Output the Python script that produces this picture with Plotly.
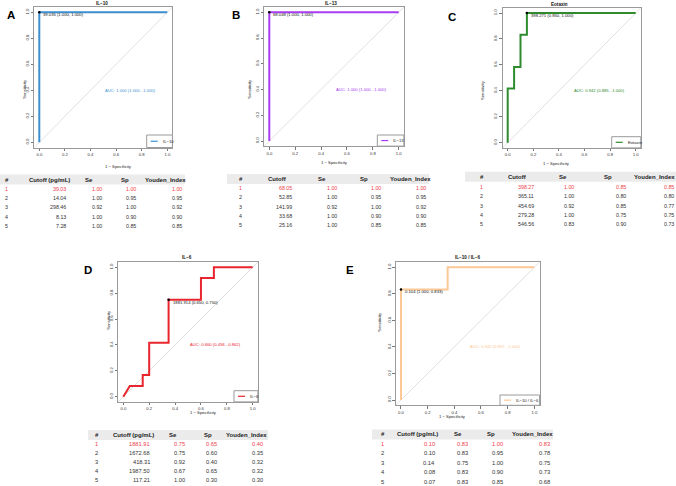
import plotly.graph_objects as go

W, H = 676, 486

# ---------------- data ----------------
il10_fpr = [0.0, 0.0, 1.0]
il10_tpr = [0.0, 1.0, 1.0]
il13_fpr = [0.0, 0.0, 1.0]
il13_tpr = [0.0, 1.0, 1.0]
eot_fpr = [0.0, 0.0, 0.05, 0.05, 0.10, 0.10, 0.15, 0.15, 1.0]
eot_tpr = [0.0, 0.417, 0.417, 0.583, 0.583, 0.833, 0.833, 1.0, 1.0]
il6_fpr = [0.0, 0.05, 0.15, 0.15, 0.20, 0.20, 0.35, 0.35, 0.60, 0.60, 0.70, 0.70, 1.0]
il6_tpr = [0.0, 0.083, 0.083, 0.167, 0.167, 0.417, 0.417, 0.75, 0.75, 0.917, 0.917, 1.0, 1.0]
ratio_fpr = [0.0, 0.0, 0.35, 0.35, 1.0]
ratio_tpr = [0.0, 0.833, 0.833, 1.0, 1.0]

titles = ["IL\u221210", "IL\u221213", "Eotaxin", "IL\u22126", "IL\u221210 / IL\u22126"]
thr_fpr = [0.0, 0.0, 0.15, 0.35, 0.0]
thr_tpr = [1.0, 1.0, 1.0, 0.75, 0.833]
thr_text = ["39.035 (1.000, 1.000)", "68.048 (1.000, 1.000)", "398.271 (0.850, 1.000)",
            "1881.914 (0.650, 0.750)", "0.104 (1.000, 0.833)"]
auc_text = ["AUC: 1.000 (1.000...1.000)", "AUC: 1.000 (1.000...1.000)", "AUC: 0.942 (0.885...1.000)",
            "AUC: 0.660 (0.458...0.862)", "AUC: 0.942 (0.857...1.000)"]

tick_vals = [0.0, 0.2, 0.4, 0.6, 0.8, 1.0]
tick_text = ["0.0", "0.2", "0.4", "0.6", "0.8", "1.0"]

A_cutoff = [39.03, 14.04, 298.46, 8.13, 7.28]
A_se = [1.00, 1.00, 0.92, 1.00, 1.00]
A_sp = [1.00, 0.95, 1.00, 0.90, 0.85]
A_yi = [1.00, 0.95, 0.92, 0.90, 0.85]
B_cutoff = [68.05, 52.85, 141.99, 33.68, 25.16]
B_se = [1.00, 1.00, 0.92, 1.00, 1.00]
B_sp = [1.00, 0.95, 1.00, 0.90, 0.85]
B_yi = [1.00, 0.95, 0.92, 0.90, 0.85]
C_cutoff = [398.27, 365.11, 454.69, 279.28, 546.56]
C_se = [1.00, 1.00, 0.92, 1.00, 0.83]
C_sp = [0.85, 0.80, 0.85, 0.75, 0.90]
C_yi = [0.85, 0.80, 0.77, 0.75, 0.73]
D_cutoff = [1881.91, 1672.68, 418.31, 1987.50, 117.21]
D_se = [0.75, 0.75, 0.92, 0.67, 1.00]
D_sp = [0.65, 0.60, 0.40, 0.65, 0.30]
D_yi = [0.40, 0.35, 0.32, 0.32, 0.30]
E_cutoff = [0.10, 0.10, 0.14, 0.08, 0.07]
E_se = [0.83, 0.83, 0.75, 0.83, 0.83]
E_sp = [1.00, 0.95, 1.00, 0.90, 0.85]
E_yi = [0.83, 0.78, 0.75, 0.73, 0.68]

# ---------------- helpers ----------------
def X(px):
    return px / W

def Y(py):
    return 1 - py / H

FONT = "Liberation Sans, Arial, sans-serif"
curves = [(il10_fpr, il10_tpr), (il13_fpr, il13_tpr), (eot_fpr, eot_tpr),
          (il6_fpr, il6_tpr), (ratio_fpr, ratio_tpr)]
colors = ["#3b8fd0", "#a83cf0", "#2e8b2e", "#e8262e", "#fcc896"]
letters = ["A", "B", "C", "D", "E"]

# pixel geometry: data x=0, x=1, y=1, y=0
geom = [
    dict(x0=39.3, x1=167.3, yt=12.3, yb=142.3),
    dict(x0=269.3, x1=398.7, yt=12.3, yb=141.0),
    dict(x0=507.7, x1=635.7, yt=13.0, yb=142.7),
    dict(x0=123.3, x1=252.7, yt=267.3, yb=396.7),
    dict(x0=401.0, x1=534.3, yt=267.3, yb=400.0),
]
title_pos = [(102, 3.5), (331, 3.5), (559, 4.5), (187, 257.5), (467, 257.5)]
letter_pos = [(11, 15), (236, 15), (452, 17), (88, 270), (350, 270)]
ylab_x = [20, 250, 487.7, 103.3, 380]
xlab_dy = [14.5, 16, 15.5, 15.5, 16]
legend_box = [(146.7, 135, 172.4, 147.5), (377.3, 135, 403.9, 146.1), (611.7, 136.7, 640.8, 147.9),
              (234, 390.7, 257.9, 401.9), (500, 395, 539.6, 405.3)]

fig = go.Figure()
annotations = []
shapes = []
layout = {}

for i in range(5):
    g = geom[i]
    ux = g["x1"] - g["x0"]
    uy = g["yb"] - g["yt"]
    left, right = g["x0"] - 0.04 * ux, g["x1"] + 0.04 * ux
    top, bottom = g["yt"] - 0.04 * uy, g["yb"] + 0.04 * uy
    n = "" if i == 0 else str(i + 1)
    xa, ya = "x" + n, "y" + n
    common = dict(range=[-0.04, 1.04], showgrid=False, zeroline=False, showline=True, mirror=True,
                  linecolor="#9a9a9a", linewidth=1, ticks="outside", ticklen=2.5, tickwidth=0.6,
                  tickcolor="#777", tickvals=tick_vals, ticktext=tick_text,
                  tickfont=dict(size=4.2, color="#333", family=FONT), fixedrange=True)
    layout["xaxis" + n] = dict(domain=[X(left), X(right)], anchor=ya, **common)
    layout["yaxis" + n] = dict(domain=[Y(bottom), Y(top)], anchor=xa, tickangle=-90, **common)

    fig.add_trace(go.Scatter(x=[-0.04, 1.04], y=[-0.04, 1.04], mode="lines",
                             line=dict(color="#d2d2d2", width=0.7), xaxis=xa, yaxis=ya,
                             showlegend=False, hoverinfo="skip"))
    fx, ty = curves[i]
    fig.add_trace(go.Scatter(x=fx, y=ty, mode="lines", line=dict(color=colors[i], width=2),
                             xaxis=xa, yaxis=ya, showlegend=False, name=titles[i]))
    fig.add_trace(go.Scatter(x=[thr_fpr[i]], y=[thr_tpr[i]], mode="markers",
                             marker=dict(color="black", size=2.5), xaxis=xa, yaxis=ya,
                             showlegend=False))
    annotations.append(dict(x=thr_fpr[i], y=thr_tpr[i], xref=xa, yref=ya, text=thr_text[i],
                            showarrow=False, xanchor="left", yanchor="middle", xshift=2, yshift=-2.5,
                            font=dict(size=4.2, color="#111", family=FONT)))
    annotations.append(dict(x=0.5, y=0.4, xref=xa, yref=ya, text=auc_text[i], showarrow=False,
                            xanchor="left", yanchor="middle",
                            font=dict(size=4.2, color=colors[i], family=FONT)))
    tx, ty_ = title_pos[i]
    annotations.append(dict(x=X(tx), y=Y(ty_), xref="paper", yref="paper", text="<b>%s</b>" % titles[i],
                            showarrow=False, xanchor="center", yanchor="middle",
                            font=dict(size=4.6, color="#111", family=FONT)))
    lx, ly = letter_pos[i]
    annotations.append(dict(x=X(lx), y=Y(ly), xref="paper", yref="paper", text="<b>%s</b>" % letters[i],
                            showarrow=False, xanchor="center", yanchor="middle",
                            font=dict(size=11.5, color="#000", family=FONT)))
    annotations.append(dict(x=X(ylab_x[i]), y=Y((g["yt"] + g["yb"]) / 2), xref="paper", yref="paper",
                            text="Sensitivity", textangle=-90, showarrow=False,
                            font=dict(size=4.2, color="#222", family=FONT)))
    annotations.append(dict(x=X((g["x0"] + g["x1"]) / 2), y=Y(bottom + xlab_dy[i]), xref="paper",
                            yref="paper", text="1 \u2212 Specificity", showarrow=False,
                            font=dict(size=4.2, color="#222", family=FONT)))
    bl, bt, br, bb = legend_box[i]
    shapes.append(dict(type="rect", xref="paper", yref="paper", x0=X(bl), x1=X(br), y0=Y(bb), y1=Y(bt),
                       line=dict(color="#9a9a9a", width=1), fillcolor="white"))
    my = (bt + bb) / 2
    shapes.append(dict(type="line", xref="paper", yref="paper", x0=X(bl + 4), x1=X(bl + 11),
                       y0=Y(my), y1=Y(my), line=dict(color=colors[i], width=1.2)))
    annotations.append(dict(x=X(bl + 14), y=Y(my), xref="paper", yref="paper", text=titles[i],
                            showarrow=False, xanchor="left", yanchor="middle",
                            font=dict(size=4.2, color="#222", family=FONT)))

# ---------------- tables ----------------
tables = [
    dict(h=["#", "Cutoff (pg/mL)", "Se", "Sp", "Youden_Index"], vals=[A_cutoff, A_se, A_sp, A_yi],
         band=(0, 185, 174.5, 184.5), hy=179.5, r0=188.5, dr=9.4,
         hx=[3, 27, 83, 119, 143], vx=[68, 104, 138, 184], fs=5.3),
    dict(h=["#", "Cutoff", "Se", "Sp", "Youden_Index"], vals=[B_cutoff, B_se, B_sp, B_yi],
         band=(227, 429, 174, 184), hy=179, r0=188.3, dr=9.2,
         hx=[236.5, 265.7, 315.7, 358.3, 387.7], vx=[294.3, 339, 383.3, 428.3], fs=5.3),
    dict(h=["#", "Cutoff", "Se", "Sp", "Youden_Index"], vals=[C_cutoff, C_se, C_sp, C_yi],
         band=(465, 676, 171.7, 181.7), hy=176.7, r0=186.7, dr=9.4,
         hx=[477.5, 506, 556.7, 601.7, 631.7], vx=[536, 576, 627.7, 675.5], fs=5.3),
    dict(h=["#", "Cutoff (pg/mL)", "Se", "Sp", "Youden_Index"], vals=[D_cutoff, D_se, D_sp, D_yi],
         band=(88, 268, 430, 440), hy=435, r0=443.5, dr=9.2,
         hx=[92.5, 110.7, 166.7, 201.7, 224], vx=[152, 186.7, 219.3, 265], fs=5.7),
    dict(h=["#", "Cutoff (pg/mL)", "Se", "Sp", "Youden_Index"], vals=[E_cutoff, E_se, E_sp, E_yi],
         band=(372, 553, 429.5, 439.5), hy=434.3, r0=443.5, dr=9.5,
         hx=[379, 395, 451.7, 485, 510], vx=[436.7, 470, 505, 551.7], fs=5.8),
]

for t in tables:
    bl, br, bt, bb = t["band"]
    shapes.append(dict(type="rect", xref="paper", yref="paper", x0=X(bl), x1=X(br), y0=Y(bb), y1=Y(bt),
                       line=dict(width=0), fillcolor="#ebebeb", layer="below"))
    for k, h in enumerate(t["h"]):
        annotations.append(dict(x=X(t["hx"][k]), y=Y(t["hy"]), xref="paper", yref="paper",
                                text="<b>%s</b>" % h, showarrow=False, xanchor="left", yanchor="middle",
                                font=dict(size=6, color="#222", family=FONT)))
    for r in range(5):
        yy = t["r0"] + t["dr"] * r
        col = "#f0414a" if r == 0 else "#333"
        annotations.append(dict(x=X(t["hx"][0]), y=Y(yy), xref="paper", yref="paper", text=str(r + 1),
                                showarrow=False, xanchor="left", yanchor="middle",
                                font=dict(size=t["fs"], color=col, family=FONT)))
        for c in range(4):
            annotations.append(dict(x=X(t["vx"][c]), y=Y(yy), xref="paper", yref="paper",
                                    text="%.2f" % t["vals"][c][r], showarrow=False, xanchor="right",
                                    yanchor="middle", font=dict(size=t["fs"], color=col, family=FONT)))

fig.update_layout(width=W, height=H, margin=dict(l=0, r=0, t=0, b=0), paper_bgcolor="white",
                  plot_bgcolor="white", showlegend=False, annotations=annotations, shapes=shapes,
                  font=dict(family=FONT), **layout)
fig.write_html("out.html", config={"displayModeBar": False},
               post_script="document.body.style.margin='0';document.body.style.overflow='hidden';")
